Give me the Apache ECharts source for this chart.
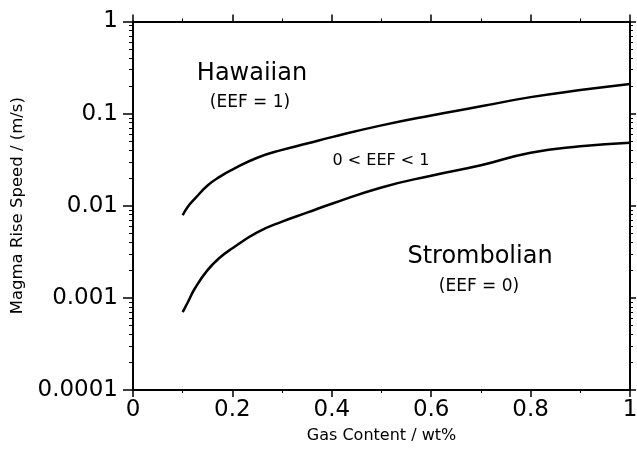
<!DOCTYPE html>
<html>
<head>
<meta charset="utf-8">
<script src="https://cdn.jsdelivr.net/npm/echarts@6/dist/echarts.min.js"></script>
<style>
  html, body { margin: 0; padding: 0; background: #fff; }
  #chart { width: 637px; height: 458px; }
</style>
</head>
<body>
<div id="chart"></div>
<script>
// gas content (wt%) at which the regime boundaries were read
const gasContent = [0.1, 0.11, 0.125, 0.15, 0.175, 0.2, 0.25, 0.3, 0.35, 0.4, 0.5, 0.6, 0.7, 0.8, 0.9, 1.0]
// upper boundary: Hawaiian / transitional
const hawaiianBoundary = [0.0079, 0.0097, 0.012, 0.0166, 0.0207, 0.0247, 0.0332, 0.0404, 0.0473, 0.0556, 0.0745, 0.0956, 0.12, 0.151, 0.18, 0.21]
// lower boundary: transitional / Strombolian
const strombolianBoundary = [0.0007, 0.00089, 0.00128, 0.002, 0.00274, 0.00346, 0.00514, 0.00673, 0.00841, 0.0105, 0.0158, 0.0212, 0.0275, 0.0377, 0.0442, 0.0483]

const yTickLabels = ['0.0001', '0.001', '0.01', '0.1', '1']
const decades = [0.0001, 0.001, 0.01, 0.1]
const minorSteps = [2, 3, 4, 5, 6, 7, 8, 9]

const FONT = '"DejaVu Sans", Verdana, sans-serif'
const minorValues = []
decades.forEach(d => minorSteps.forEach(m => minorValues.push(+(d * m).toPrecision(3))))

const chart = echarts.init(document.getElementById('chart'))

function logAxis(position, opts) {
  return Object.assign({
    type: 'log',
    logBase: 10,
    min: 0.0001,
    max: 1,
    position,
    axisLine: { show: true, lineStyle: { color: '#000', width: 2 } },
    axisTick: { show: true, length: 10, lineStyle: { color: '#000', width: 1.5 } },
    axisLabel: { show: false },
    splitLine: { show: false },
  }, opts)
}

function linAxis(position, opts) {
  return Object.assign({
    type: 'value',
    min: 0,
    max: 1,
    interval: 0.2,
    position,
    axisLine: { show: true, lineStyle: { color: '#000', width: 2 } },
    axisTick: { show: true, length: 7, lineStyle: { color: '#000', width: 1.5 } },
    minorTick: { show: true, splitNumber: 2, length: 3, lineStyle: { color: '#000', width: 1 } },
    axisLabel: { show: false },
    splitLine: { show: false },
    minorSplitLine: { show: false },
  }, opts)
}

const option = {
  animation: false,
  backgroundColor: '#fff',
  grid: { left: 133, right: 7, top: 21.5, bottom: 68, outerBoundsMode: 'none', containLabel: false },
  xAxis: [
    linAxis('bottom', {
      name: 'Gas Content / wt%',
      nameLocation: 'middle',
      nameGap: 38,
      nameTextStyle: { color: '#000', fontSize: 16, fontFamily: FONT },
      axisLabel: { show: true, color: '#000', fontSize: 23, fontFamily: FONT, margin: 9 },
    }),
    linAxis('top', {}),
  ],
  yAxis: [
    logAxis('left', {
      name: 'Magma Rise Speed / (m/s)',
      nameLocation: 'middle',
      nameGap: 106,
      nameRotate: 90,
      nameTextStyle: { color: '#000', fontSize: 16.5, fontFamily: FONT },
      axisLabel: {
        show: true, color: '#000', fontSize: 23, fontFamily: FONT, margin: 15,
        formatter: v => yTickLabels[Math.round(Math.log10(v)) + 4],
      },
    }),
    logAxis('left', {
      axisLine: { show: false },
      axisTick: { show: true, length: 4, customValues: minorValues, lineStyle: { color: '#000', width: 1 } },
    }),
    logAxis('right', { axisTick: { show: true, length: 6, lineStyle: { color: '#000', width: 1.5 } } }),
    logAxis('right', {
      axisLine: { show: false },
      axisTick: { show: true, length: 3, customValues: minorValues, lineStyle: { color: '#000', width: 1 } },
    }),
  ],
  series: [
    {
      name: 'Hawaiian boundary',
      type: 'line',
      data: gasContent.map((g, i) => [g, hawaiianBoundary[i]]),
      smooth: 0.5,
      showSymbol: false,
      lineStyle: { color: '#000', width: 2.5 },
    },
    {
      name: 'Strombolian boundary',
      type: 'line',
      data: gasContent.map((g, i) => [g, strombolianBoundary[i]]),
      smooth: 0.5,
      showSymbol: false,
      lineStyle: { color: '#000', width: 2.5 },
    },
  ],
  graphic: [
    { type: 'text', x: 252, y: 74, style: { text: 'Hawaiian', font: '24px ' + FONT, fill: '#000', align: 'center', verticalAlign: 'middle' } },
    { type: 'text', x: 250, y: 103, style: { text: '(EEF = 1)', font: '17px ' + FONT, fill: '#000', align: 'center', verticalAlign: 'middle' } },
    { type: 'text', x: 381, y: 161, style: { text: '0 < EEF < 1', font: '16px ' + FONT, fill: '#000', align: 'center', verticalAlign: 'middle' } },
    { type: 'text', x: 480, y: 257, style: { text: 'Strombolian', font: '24px ' + FONT, fill: '#000', align: 'center', verticalAlign: 'middle' } },
    { type: 'text', x: 479, y: 287, style: { text: '(EEF = 0)', font: '17px ' + FONT, fill: '#000', align: 'center', verticalAlign: 'middle' } },
  ],
}

chart.setOption(option)
</script>
</body>
</html>
